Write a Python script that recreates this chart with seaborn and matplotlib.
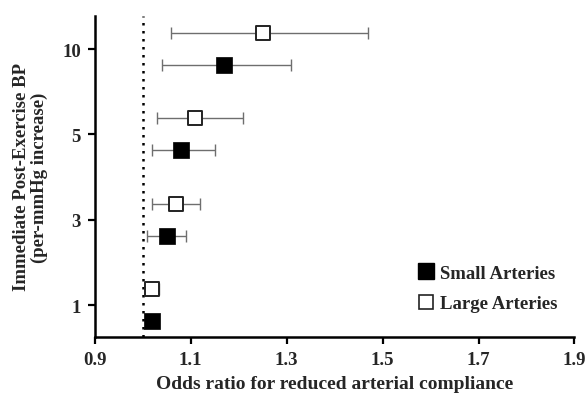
import seaborn as sns
import matplotlib.pyplot as plt
import matplotlib.lines as mlines
import pandas as pd
import numpy as np

# data
bp_levels = ["1", "3", "5", "10"]
small_or = [1.02, 1.05, 1.08, 1.17]
small_lo = [1.01, 1.01, 1.02, 1.04]
small_hi = [1.03, 1.09, 1.15, 1.31]
large_or = [1.02, 1.07, 1.11, 1.25]
large_lo = [1.01, 1.02, 1.03, 1.06]
large_hi = [1.035, 1.12, 1.21, 1.47]

sns.set_style("ticks")
plt.rcParams["font.family"] = ["Liberation Serif", "DejaVu Serif"]
plt.rcParams["font.weight"] = "bold"

pos = np.arange(len(bp_levels))
df = pd.concat([
    pd.DataFrame({"level": bp_levels, "y": pos - 0.1875, "OR": small_or,
                  "lo": small_lo, "hi": small_hi, "group": "Small Arteries"}),
    pd.DataFrame({"level": bp_levels, "y": pos + 0.1875, "OR": large_or,
                  "lo": large_lo, "hi": large_hi, "group": "Large Arteries"}),
])

fig = plt.figure(figsize=(5.88, 4.02), dpi=100)
ax = fig.add_axes([0.161, 0.159, 0.816, 0.799])

# confidence intervals
ax.errorbar(df["OR"], df["y"], xerr=[df["OR"] - df["lo"], df["hi"] - df["OR"]],
            fmt="none", ecolor="#6e6e6e", elinewidth=1.0, capsize=4.3,
            capthick=1.0, zorder=1)

# reference line at OR = 1
ax.axvline(1.0, color="black", linestyle=(0, (1, 2.2)), linewidth=1.8, zorder=0)

small = df[df["group"] == "Small Arteries"]
large = df[df["group"] == "Large Arteries"]
sns.scatterplot(data=small, x="OR", y="y", marker="s", s=135, color="black",
                edgecolor="black", linewidth=0.5, ax=ax, zorder=3)
sns.scatterplot(data=large, x="OR", y="y", marker="s", s=105, color="white",
                edgecolor="#222222", linewidth=1.4, ax=ax, zorder=3)

ax.set_xlim(0.9, 1.9)
ax.set_ylim(-0.375, 3.39)
ax.set_xticks([0.9, 1.1, 1.3, 1.5, 1.7, 1.9])
ax.set_xticklabels(["0.9", "1.1", "1.3", "1.5", "1.7", "1.9"],
                   fontsize=13.5, fontweight="bold")
ax.set_yticks(pos)
ax.set_yticklabels(bp_levels, fontsize=13.5, fontweight="bold")
ax.tick_params(axis="both", width=1.6, length=5, color="black", pad=5)

sns.despine(ax=ax)
for side in ["left", "bottom"]:
    ax.spines[side].set_linewidth(1.8)
    ax.spines[side].set_color("black")

ax.set_xlabel("Odds ratio for reduced arterial compliance", fontsize=14,
              fontweight="bold", labelpad=5)
ax.set_ylabel("Immediate Post-Exercise BP\n(per-mmHg increase)", fontsize=13.5,
              fontweight="bold", labelpad=10, linespacing=1.05)

h_small = mlines.Line2D([], [], marker="s", color="black", linestyle="none",
                        markersize=11, markeredgecolor="black")
h_large = mlines.Line2D([], [], marker="s", color="white", linestyle="none",
                        markersize=10, markeredgecolor="#222222", markeredgewidth=1.2)
ax.legend([h_small, h_large], ["Small Arteries", "Large Arteries"],
          loc="lower right", bbox_to_anchor=(1.0, 0.025), frameon=False,
          handletextpad=0.15, labelspacing=0.71, handlelength=1.2,
          prop={"weight": "bold", "size": 13.5})

fig.savefig("out.png", dpi=100)
plt.close(fig)
